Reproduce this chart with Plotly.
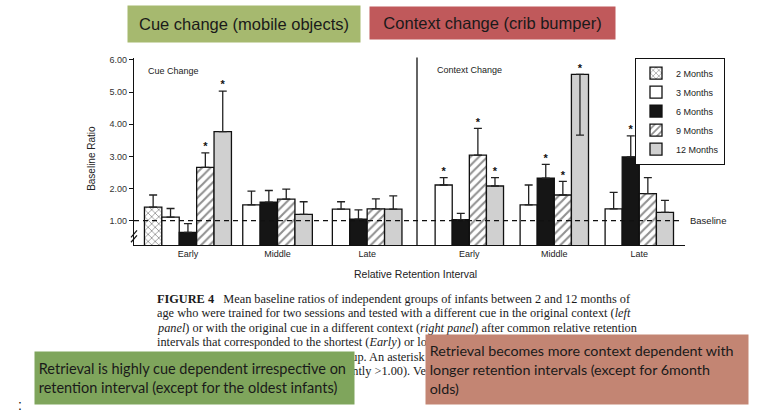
import plotly.graph_objects as go

W, H = 759, 417

# ---------------- data ----------------
ages = ["2 Months", "3 Months", "6 Months", "9 Months", "12 Months"]
intervals = ["Early", "Middle", "Late"]

# Cue change (left panel): mean baseline ratio per interval (None = not tested)
cue_2m = [1.42, None, None]
cue_3m = [1.11, 1.49, 1.36]
cue_6m = [0.64, 1.58, 1.05]
cue_9m = [2.66, 1.67, 1.37]
cue_12m = [3.77, 1.20, 1.36]
# error bar end points
cue_2m_err = [1.80, None, None]
cue_3m_err = [1.38, 1.92, 1.59]
cue_6m_err = [0.91, 1.94, 1.34]
cue_9m_err = [3.11, 1.98, 1.68]
cue_12m_err = [5.03, 1.59, 1.77]
# significance asterisks
cue_2m_sig = [False, False, False]
cue_3m_sig = [False, False, False]
cue_6m_sig = [False, False, False]
cue_9m_sig = [True, False, False]
cue_12m_sig = [True, False, False]

# Context change (right panel)
ctx_2m = [None, None, None]
ctx_3m = [2.11, 1.49, 1.37]
ctx_6m = [1.03, 2.32, 2.98]
ctx_9m = [3.04, 1.80, 1.84]
ctx_12m = [2.08, 5.55, 1.26]
ctx_2m_err = [None, None, None]
ctx_3m_err = [2.34, 2.11, 1.88]
ctx_6m_err = [1.23, 2.75, 3.64]
ctx_9m_err = [3.87, 2.22, 2.34]
ctx_12m_err = [2.34, 3.66, 1.63]
ctx_2m_sig = [False, False, False]
ctx_3m_sig = [True, False, False]
ctx_6m_sig = [False, True, True]
ctx_9m_sig = [True, True, False]
ctx_12m_sig = [True, True, False]

y_ticks = [1, 2, 3, 4, 5, 6]
baseline_value = 1.0

cue_vals = [cue_2m, cue_3m, cue_6m, cue_9m, cue_12m]
cue_errs = [cue_2m_err, cue_3m_err, cue_6m_err, cue_9m_err, cue_12m_err]
cue_sigs = [cue_2m_sig, cue_3m_sig, cue_6m_sig, cue_9m_sig, cue_12m_sig]
ctx_vals = [ctx_2m, ctx_3m, ctx_6m, ctx_9m, ctx_12m]
ctx_errs = [ctx_2m_err, ctx_3m_err, ctx_6m_err, ctx_9m_err, ctx_12m_err]
ctx_sigs = [ctx_2m_sig, ctx_3m_sig, ctx_6m_sig, ctx_9m_sig, ctx_12m_sig]

# ---------------- styling helpers ----------------
def px(x):
    return x / W

def py(y):
    return 1 - y / H

SANS = "Liberation Sans, Arial, sans-serif"
SERIF = "Liberation Serif, Times New Roman, serif"
CAL = "Lato, Carlito, sans-serif"

styles = {
    "2 Months": dict(color="white", pattern=dict(shape="x", fgcolor="#222", bgcolor="white", size=5, solidity=0.3)),
    "3 Months": dict(color="white"),
    "6 Months": dict(color="#151515"),
    "9 Months": dict(color="white", pattern=dict(shape="/", fgcolor="#222", bgcolor="white", size=6, solidity=0.35)),
    "12 Months": dict(color="#d0d0d0"),
}

panels = [
    dict(vals=cue_vals, errs=cue_errs, sigs=cue_sigs, xaxis="x", start=3.1, step=5.15, legend=True),
    dict(vals=ctx_vals, errs=ctx_errs, sigs=ctx_sigs, xaxis="x2", start=3.06, step=4.97, legend=False),
]

fig = go.Figure()

for p in panels:
    centers = [p["start"] + p["step"] * g for g in range(len(intervals))]
    pos = {}
    for g in range(len(intervals)):
        present = [i for i in range(len(ages)) if p["vals"][i][g] is not None]
        n = len(present)
        for k, i in enumerate(present):
            pos[(i, g)] = centers[g] + (k - (n - 1) / 2)
    for i, age in enumerate(ages):
        xs, ys, plus, minus, sx, sy = [], [], [], [], [], []
        for g in range(len(intervals)):
            v = p["vals"][i][g]
            if v is None:
                continue
            e = p["errs"][i][g]
            xs.append(pos[(i, g)])
            ys.append(v)
            plus.append(max(e - v, 0))
            minus.append(max(v - e, 0))
            if p["sigs"][i][g]:
                sx.append(pos[(i, g)])
                sy.append(max(v, e))
        if not xs and not p["legend"]:
            continue
        st = styles[age]
        marker = dict(color=st["color"], line=dict(color="#111", width=1.3))
        if "pattern" in st:
            marker["pattern"] = st["pattern"]
        fig.add_trace(go.Bar(
            x=xs if xs else [None], y=ys if ys else [None], width=1.0, name=age,
            xaxis=p["xaxis"], yaxis="y", marker=marker,
            showlegend=p["legend"],
            error_y=dict(type="data", symmetric=False, array=plus, arrayminus=minus,
                         color="#222", thickness=1.3, width=4),
        ))
        if sx:
            fig.add_trace(go.Scatter(
                x=sx, y=sy, mode="text", text=["<b>*</b>"] * len(sx), textposition="top center",
                textfont=dict(size=11, color="#111", family=SANS),
                xaxis=p["xaxis"], yaxis="y", showlegend=False, cliponaxis=False,
                hoverinfo="skip",
            ))

left_centers = [panels[0]["start"] + panels[0]["step"] * g for g in range(3)]
right_centers = [panels[1]["start"] + panels[1]["step"] * g for g in range(3)]

axis_common = dict(showline=True, linecolor="#111", linewidth=1.3, ticks="",
                   showgrid=False, zeroline=False, fixedrange=True,
                   tickfont=dict(size=9, family=SANS, color="#222"))

fig.update_layout(
    width=W, height=H, margin=dict(l=0, r=0, t=0, b=0),
    paper_bgcolor="white", plot_bgcolor="white",
    barmode="overlay", showlegend=True,
    xaxis=dict(domain=[px(134), px(417)], range=[0, 283 / 17.4], anchor="y",
               tickvals=left_centers, ticktext=intervals, **axis_common),
    xaxis2=dict(domain=[px(417), px(685)], range=[0, 268 / 17.1], anchor="y",
                tickvals=right_centers, ticktext=intervals, **axis_common),
    yaxis=dict(domain=[py(244), py(55)], range=[0.238, 6.07], anchor="x",
               tickvals=y_ticks, ticktext=[f"{t:.2f}" for t in y_ticks],
               showline=True, linecolor="#111", linewidth=1.3, ticks="outside",
               ticklen=4, tickcolor="#111", tickwidth=1.2, showgrid=False,
               zeroline=False, fixedrange=True,
               tickfont=dict(size=9, family=SANS, color="#333")),
    legend=dict(x=px(725), y=py(55), xanchor="right", yanchor="top",
                bordercolor="#111", borderwidth=1, bgcolor="white",
                font=dict(size=9, family=SANS, color="#222"), traceorder="normal",
                itemwidth=30),
)

shapes = [
    dict(type="line", xref="paper", yref="y", x0=px(134), x1=px(683), y0=baseline_value, y1=baseline_value,
         line=dict(color="#111", width=1.3, dash="5px,4px")),
    dict(type="line", xref="paper", yref="paper", x0=px(417), x1=px(417), y0=py(244), y1=py(55),
         line=dict(color="#111", width=1.3)),
    dict(type="line", xref="paper", yref="paper", x0=px(131), x1=px(137), y0=py(236), y1=py(229),
         line=dict(color="#111", width=1.2)),
    dict(type="line", xref="paper", yref="paper", x0=px(131), x1=px(137), y0=py(241), y1=py(234),
         line=dict(color="#111", width=1.2)),
]
fig.update_layout(shapes=shapes)

ann = []
def text(x, y, t, size, family=SANS, color="#222", xanchor="left", **kw):
    ann.append(dict(x=px(x), y=py(y), xref="paper", yref="paper", text=t, showarrow=False,
                    xanchor=xanchor, yanchor="middle",
                    font=dict(size=size, family=family, color=color), **kw))

text(146, 68, "Cue Change", 9)
text(435, 67, "Context Change", 9)
text(688, 219, "Baseline", 9.5)
text(415, 273, "Relative Retention Interval", 10.5, xanchor="center")
text(92, 157, "Baseline Ratio", 10, xanchor="center", textangle=-90)

caption = [
    "<b>FIGURE 4</b>\u00a0\u00a0 Mean baseline ratios of independent groups of infants between 2 and 12 months of",
    "age who were trained for two sessions and tested with a different cue in the original context (<i>left</i>",
    "<i>panel</i>) or with the original cue in a different context (<i>right panel</i>) after common relative retention",
    "intervals that corresponded to the shortest (<i>Early</i>) or longest (<i>Late</i>) retention interval or to",
    "the total delay (<i>Middle</i>) of each age group. An asterisk indicates a significant",
    "indicates retention (mean ratio significantly &gt;1.00). Vertical bars indicate +1 SE.",
]
for k, line in enumerate(caption):
    text(155, 297.7 + 14.6 * k, line, 12.3, family=SERIF, color="#1a1a1a")

def box(x0, x1, y0, y1, t, bg, size, family, align="center"):
    ann.append(dict(x=px((x0 + x1) / 2), y=py((y0 + y1) / 2), xref="paper", yref="paper",
                    text=t, showarrow=False, xanchor="center", yanchor="middle",
                    width=x1 - x0, height=y1 - y0, bgcolor=bg, borderpad=0, align=align,
                    font=dict(size=size, family=family, color="#1a1a1a")))

box(128, 360, 3, 39, "Cue change (mobile objects)", "#a6b96f", 16.5, SANS)
box(370, 615, 4, 36, "Context change (crib bumper)", "#c0595b", 16.5, SANS)
box(35, 354, 352, 404,
    "\u00a0Retrieval is highly cue dependent irrespective on<br>\u00a0retention interval (except for the oldest infants)",
    "#7fa55c", 14.5, CAL, align="left")
box(426, 748, 335, 404,
    "\u00a0Retrieval becomes more context dependent with<br>\u00a0longer retention intervals (except for 6month<br>\u00a0olds)",
    "#c38573", 14.3, CAL, align="left")

text(16, 405, ":", 14, color="#111")

fig.update_layout(annotations=ann)
fig.write_html(
    "out.html",
    config={"displayModeBar": False},
    post_script="document.body.style.margin='0';document.body.style.overflow='hidden';",
)
